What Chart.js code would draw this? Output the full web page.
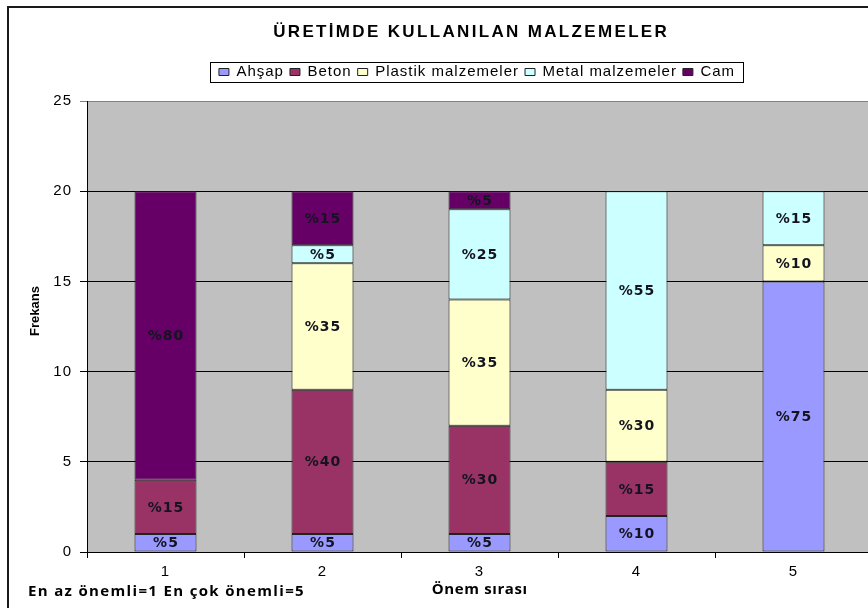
<!DOCTYPE html>
<html><head><meta charset="utf-8">
<script src="https://cdn.jsdelivr.net/npm/chart.js@4.4.1/dist/chart.umd.min.js"></script>
<style>
html,body{margin:0;padding:0;overflow:hidden;background:#fff;width:868px;height:608px}
#wrap{position:absolute;left:0;top:0;width:940px;height:608px}
canvas{display:block}
</style>
</head><body><div id="wrap"><canvas id="c" width="940" height="608" style="width:940px;height:608px"></canvas></div>
<script>
// ---- data ----
const chartTitle = 'ÜRETİMDE KULLANILAN MALZEMELER';
const yAxisTitle = 'Frekans';
const xAxisTitle = 'Önem sırası';
const footNote = 'En az önemli=1 En çok önemli=5';
const categories = ['1', '2', '3', '4', '5'];
const seriesNames = ['Ahşap', 'Beton', 'Plastik malzemeler', 'Metal malzemeler', 'Cam'];
const ahsap   = [1, 1, 1, 2, 15];
const beton   = [3, 8, 6, 3, 0];
const plastik = [0, 7, 7, 4, 2];
const metal   = [0, 1, 5, 11, 3];
const cam     = [16, 3, 1, 0, 0];
const ahsapLabels   = ['%5', '%5', '%5', '%10', '%75'];
const betonLabels   = ['%15', '%40', '%30', '%15', ''];
const plastikLabels = ['', '%35', '%35', '%30', '%10'];
const metalLabels   = ['', '%5', '%25', '%55', '%15'];
const camLabels     = ['%80', '%15', '%5', '', ''];
const yTicks = [0, 5, 10, 15, 20, 25];
const seriesColors = ['#9999FF', '#993366', '#FFFFCC', '#CCFFFF', '#660066'];

const seriesValues = [ahsap, beton, plastik, metal, cam];
const seriesLabels = [ahsapLabels, betonLabels, plastikLabels, metalLabels, camLabels];

const LS = '1px';

function fitText(ctx, text, x, y, font, target, align) {
  ctx.save();
  ctx.font = font;
  ctx.letterSpacing = '0px';
  const w = ctx.measureText(text).width;
  const ls = Math.max(0, (target - w) / text.length);
  ctx.letterSpacing = ls + 'px';
  ctx.textAlign = 'left';
  ctx.textBaseline = 'middle';
  ctx.fillStyle = '#000';
  const tw = w + ls * (text.length - 1);
  const x0 = align === 'center' ? x - tw / 2 : x;
  ctx.fillText(text, x0, y);
  ctx.restore();
}

const bgPlugin = {
  id: 'bg',
  beforeLayout(chart) { chart.ctx.letterSpacing = LS; },
  beforeDraw(chart) {
    const { ctx, chartArea: { left, top, right, bottom } } = chart;
    ctx.save();
    ctx.fillStyle = '#fff';
    ctx.fillRect(0, 0, chart.width, chart.height);
    ctx.fillStyle = '#C0C0C0';
    ctx.fillRect(left, top, right - left, bottom - top);
    ctx.restore();
    ctx.letterSpacing = LS;
  }
};

const labelPlugin = {
  id: 'barLabels',
  afterDatasetsDraw(chart) {
    const ctx = chart.ctx;
    chart.data.datasets.forEach((ds, i) => {
      const meta = chart.getDatasetMeta(i);
      meta.data.forEach((el, j) => {
        const t = seriesLabels[i][j];
        if (!t) return;
        const { x, y, base } = el.getProps(['x', 'y', 'base'], true);
        ctx.save();
        ctx.font = 'bold 14px "DejaVu Sans"';
        ctx.letterSpacing = '1px';
        ctx.fillStyle = '#141420';
        ctx.textAlign = 'left';
        ctx.textBaseline = 'middle';
        const w = ctx.measureText(t).width - 1;
        ctx.fillText(t, x - w / 2, (y + base) / 2 + 1);
        ctx.restore();
      });
    });
  }
};

const decoPlugin = {
  id: 'deco',
  afterDraw(chart) {
    const ctx = chart.ctx;
    const ca = chart.chartArea;
    // frame
    ctx.save();
    ctx.strokeStyle = '#1a1a1a';
    ctx.lineWidth = 2;
    ctx.beginPath();
    ctx.moveTo(8, chart.height);
    ctx.lineTo(8, 7);
    ctx.lineTo(chart.width, 7);
    ctx.stroke();
    ctx.restore();
    // legend border
    const hb = chart.legend && chart.legend.legendHitBoxes;
    if (hb && hb.length) {
      const l = hb[0].left - 9;
      const last = hb[hb.length - 1];
      const r = last.left + last.width + 8;
      const t = hb[0].top - 2.5;
      const b = hb[0].top + hb[0].height + 2.5;
      ctx.save();
      ctx.strokeStyle = '#000';
      ctx.lineWidth = 1;
      ctx.strokeRect(Math.round(l) + 0.5, Math.round(t) + 0.5, Math.round(r - l), Math.round(b - t));
      ctx.restore();
    }
    // title
    fitText(ctx, chartTitle, 470, 32, 'bold 17px "Liberation Sans"', 396, 'center');
    // y axis title
    ctx.save();
    ctx.translate(35, 311);
    ctx.rotate(-Math.PI / 2);
    fitText(ctx, yAxisTitle, 0, 0, 'bold 13px "Liberation Sans Narrow", "Liberation Sans"', 37, 'center');
    ctx.restore();
    // x axis title
    fitText(ctx, xAxisTitle, (ca.left + ca.right) / 2, 590, 'bold 15px "Open Sans"', 96, 'center');
    // footnote
    fitText(ctx, footNote, 28, 592, 'bold 15px "Open Sans"', 277, 'left');
  }
};

const tickFont = { family: '"Liberation Sans", Arial, sans-serif', size: 15 };

new Chart(document.getElementById('c'), {
  type: 'bar',
  data: {
    labels: categories,
    datasets: seriesNames.map((name, i) => ({
      label: name,
      data: seriesValues[i],
      backgroundColor: seriesColors[i],
      borderColor: '#222222',
      borderWidth: 1,
      borderSkipped: false,
      categoryPercentage: 1,
      barPercentage: 0.395
    }))
  },
  options: {
    responsive: false,
    animation: false,
    devicePixelRatio: 1,
    layout: { padding: { left: 14, right: 0, top: 58.5, bottom: 0 } },
    plugins: {
      title: { display: false },
      tooltip: { enabled: false },
      legend: {
        position: 'top',
        labels: {
          boxWidth: 10,
          boxHeight: 7,
          padding: 6,
          color: '#000',
          font: tickFont
        }
      }
    },
    scales: {
      x: {
        type: 'category',
        stacked: true,
        offset: true,
        grid: { display: true, drawOnChartArea: false, drawTicks: true, tickLength: 6, color: '#000', offset: true },
        border: { display: true, color: '#000', width: 1 },
        ticks: { color: '#000', font: tickFont, padding: 5, maxRotation: 0 },
        afterFit(s) { s.height = 56; }
      },
      xTop: {
        type: 'category',
        position: 'top',
        display: true,
        grid: { display: false },
        border: { display: false },
        ticks: { display: false },
        afterFit(s) { s.height = 11.5; }
      },
      y: {
        type: 'linear',
        stacked: true,
        min: 0,
        max: 25,
        afterBuildTicks(s) { s.ticks = yTicks.map(v => ({ value: v })); },
        ticks: { color: '#000', font: tickFont, padding: 8 },
        grid: {
          color: c => (c.tick && c.tick.value === 25) ? '#808080' : '#000',
          tickLength: 7,
          drawTicks: true
        },
        border: { display: true, color: '#000', width: 1 },
        afterFit(s) { s.width = 73; }
      },
      yR: {
        type: 'linear',
        position: 'right',
        display: true,
        grid: { display: false },
        border: { display: false },
        ticks: { display: false },
        afterFit(s) { s.width = 68; }
      }
    }
  },
  plugins: [bgPlugin, labelPlugin, decoPlugin]
});
</script>
</body></html>
